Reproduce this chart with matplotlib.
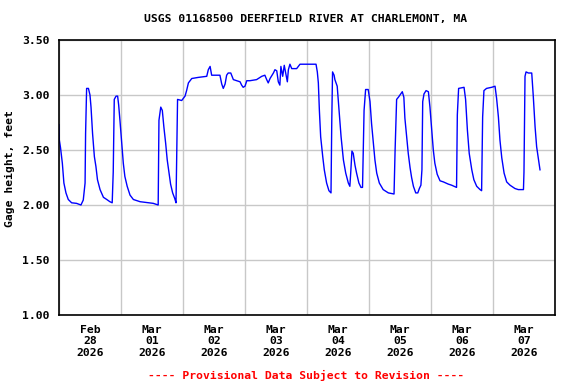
# -*- coding: utf-8 -*-
"""
USGS gage height plot, Deerfield River at Charlemont, MA.
"""
import datetime as dt
import matplotlib
matplotlib.use('Agg')
import matplotlib.pyplot as plt

# hours after 2026-02-28 00:00
hours = [0.0, 0.13, 0.6, 1.3, 1.9, 2.7, 3.6, 4.9, 6.8, 8.5, 9.4, 10.1, 10.3,
         10.7, 11.4, 12.0, 12.4, 13.0, 13.7, 14.3, 14.9, 15.9, 17.2, 18.5,
         19.7, 20.6, 21.0, 21.4, 22.1, 22.7, 23.1, 23.6, 24.3, 24.9, 25.5,
         26.4, 27.5, 28.8, 31.4, 36.5, 38.4, 38.7, 39.4, 40.0, 40.6, 41.3,
         41.9, 42.6, 43.2, 44.0, 44.8, 45.3, 45.6, 45.9, 47.5, 48.8, 49.4,
         50.1, 51.4, 53.9, 57.2, 57.8, 58.5, 59.1, 62.3, 63.0, 63.6, 64.3,
         64.9, 65.5, 66.5, 67.5, 68.8, 70.1, 70.7, 71.3, 72.0, 72.7, 73.9,
         76.5, 78.5, 79.7, 80.4, 81.0, 81.7, 83.0, 83.6, 84.3, 84.9, 85.5,
         85.9, 86.6, 87.2, 87.9, 88.4, 88.8, 89.4, 90.1, 92.0, 93.3, 99.5,
         100.0, 100.4, 100.8, 101.3, 102.1, 102.7, 103.6, 104.5, 105.3,
         105.6, 105.9, 106.5, 106.8, 107.7, 108.4, 109.2, 110.1, 111.0,
         112.0, 112.6, 113.0, 113.4, 113.9, 114.6, 115.2, 116.1, 116.9,
         117.5, 117.8, 118.1, 118.7, 119.7, 120.4, 121.0, 121.7, 122.3,
         123.0, 124.0, 125.5, 127.5, 129.7, 130.1, 130.7, 131.4, 132.0,
         132.9, 133.5, 133.9, 134.6, 135.2, 135.9, 136.5, 137.2, 138.1,
         138.9, 139.5, 140.1, 140.5, 140.8, 141.3, 142.1, 143.0, 143.6,
         144.3, 144.9, 145.5, 146.4, 147.5, 148.8, 150.7, 152.0, 153.9,
         154.2, 154.7, 156.8, 157.4, 158.1, 158.8, 159.8, 160.6, 161.7,
         163.0, 163.6, 164.0, 164.5, 165.5, 167.5, 168.8, 169.4, 170.1,
         170.7, 171.4, 172.3, 173.3, 174.6, 176.5, 177.8, 179.8, 180.0,
         180.4, 180.8, 181.7, 183.0, 183.6, 184.3, 184.9, 185.5, 186.2]

gage = [2.73, 2.59, 2.52, 2.38, 2.20, 2.11, 2.05, 2.02, 2.015, 2.00, 2.045,
        2.20, 2.65, 3.06, 3.06, 3.00, 2.89, 2.65, 2.44, 2.35, 2.23, 2.14,
        2.07, 2.05, 2.03, 2.02, 2.30, 2.96, 2.99, 2.99, 2.91, 2.77, 2.56,
        2.38, 2.26, 2.17, 2.09, 2.05, 2.03, 2.015, 2.00, 2.77, 2.89, 2.86,
        2.71, 2.56, 2.41, 2.29, 2.19, 2.11, 2.06, 2.02, 2.52, 2.96, 2.95,
        2.99, 3.04, 3.11, 3.15, 3.16, 3.17, 3.23, 3.26, 3.18, 3.18, 3.10,
        3.06, 3.10, 3.18, 3.20, 3.20, 3.14, 3.13, 3.12, 3.09, 3.07, 3.08,
        3.13, 3.13, 3.14, 3.17, 3.18, 3.14, 3.11, 3.15, 3.20, 3.23, 3.22,
        3.12, 3.09, 3.26, 3.17, 3.27, 3.18, 3.12, 3.23, 3.28, 3.24, 3.24,
        3.28, 3.28, 3.21, 3.11, 2.86, 2.62, 2.44, 2.32, 2.20, 2.13, 2.11,
        2.77, 3.21, 3.18, 3.14, 3.08, 2.86, 2.62, 2.41, 2.29, 2.20, 2.17,
        2.32, 2.49, 2.47, 2.36, 2.29, 2.20, 2.16, 2.16, 2.50, 2.86, 3.05,
        3.05, 2.94, 2.74, 2.56, 2.41, 2.29, 2.20, 2.14, 2.11, 2.10, 2.49,
        2.96, 2.98, 3.00, 3.03, 2.98, 2.79, 2.62, 2.47, 2.34, 2.25, 2.17,
        2.11, 2.11, 2.15, 2.18, 2.32, 2.94, 3.01, 3.04, 3.03, 2.89, 2.68,
        2.50, 2.38, 2.28, 2.22, 2.21, 2.19, 2.18, 2.16, 2.82, 3.06, 3.07,
        2.96, 2.68, 2.47, 2.32, 2.23, 2.17, 2.14, 2.13, 2.80, 3.04, 3.06,
        3.07, 3.08, 2.97, 2.80, 2.59, 2.43, 2.29, 2.21, 2.18, 2.15, 2.14,
        2.14, 2.30, 3.17, 3.21, 3.20, 3.20, 2.99, 2.71, 2.53, 2.43, 2.32]

yticks = [1.00, 1.50, 2.00, 2.50, 3.00, 3.50]
start = dt.datetime(2026, 2, 28)
ndays = 8

title = 'USGS 01168500 DEERFIELD RIVER AT CHARLEMONT, MA'
note = '---- Provisional Data Subject to Revision ----'


def main():
    mono = 'DejaVu Sans Mono'
    fs = 8.2
    times = [start + dt.timedelta(hours=h) for h in hours]

    fig = plt.figure(figsize=(5.76, 3.84), dpi=100)
    ax = fig.add_axes([0.1024, 0.1797, 0.8611, 0.7161])

    ax.plot(times, gage, color='#0000ff', linewidth=1.0)

    ax.set_xlim(start, start + dt.timedelta(days=ndays))
    ax.set_ylim(1.0, 3.5)

    # gridlines at midnight, labels at noon
    midnights = [start + dt.timedelta(days=d) for d in range(ndays + 1)]
    noons = [start + dt.timedelta(days=d, hours=12) for d in range(ndays)]
    ax.set_xticks(midnights, minor=True)
    ax.set_xticks(noons)
    ax.set_xticklabels([t.strftime('%b\n%d\n%Y') for t in noons],
                       fontfamily=mono, fontweight='bold', fontsize=fs,
                       linespacing=1.2)
    ax.set_yticks(yticks)
    ax.set_yticklabels(['%.2f' % v for v in yticks], fontfamily=mono,
                       fontweight='bold', fontsize=fs)
    ax.tick_params(axis='both', which='both', length=0)
    ax.tick_params(axis='x', pad=7)
    ax.tick_params(axis='y', pad=6.5)

    ax.grid(True, axis='x', which='minor', color='#c8c8c8', linewidth=1.0)
    ax.grid(True, axis='y', which='major', color='#c8c8c8', linewidth=1.0)
    ax.grid(False, axis='x', which='major')
    for s in ax.spines.values():
        s.set_linewidth(1.2)
        s.set_color('black')

    ax.set_ylabel('Gage height, feet', fontfamily=mono, fontweight='bold',
                  fontsize=fs, va='center')
    ax.yaxis.set_label_coords(-0.098, 0.531)
    fig.text(0.531, 0.9505, title, ha='center', va='center', fontfamily=mono,
             fontweight='bold', fontsize=fs)
    fig.text(0.531, 0.0234, note, ha='center', va='center', fontfamily=mono,
             fontweight='bold', fontsize=fs, color='#ff0000')

    fig.savefig('out.png', dpi=100)


if __name__ == "__main__":
    main()
